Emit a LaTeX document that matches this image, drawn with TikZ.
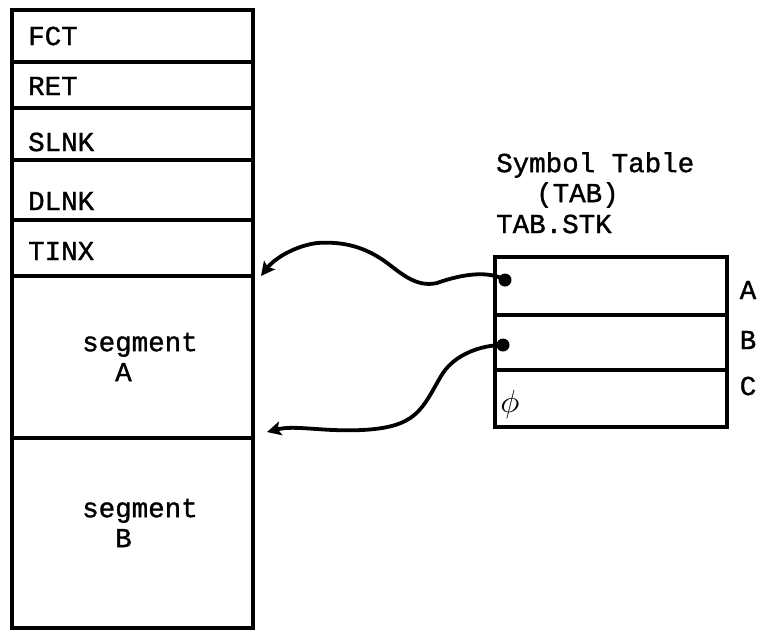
\documentclass[tikz,border=0pt]{standalone}
\usepackage{fontspec}
\newfontfamily\tw[FakeBold=1.2]{Liberation Mono}
\usetikzlibrary{arrows.meta}
\begin{document}
\begin{tikzpicture}[x=1pt,y=-1pt,
  cell/.style={draw,line width=3.4pt,minimum width=241pt,inner sep=0pt},
  tcell/.style={draw,line width=3.4pt,minimum width=232pt,inner sep=0pt},
  lbl/.style={font=\tw\fontsize{27.5}{30}\selectfont,inner sep=0pt},
  ptr/.style={line width=3.8pt,-{Stealth[length=14pt,width=14pt,inset=3pt]}},
  dot/.style={circle,fill,inner sep=0pt,minimum size=13pt}]
\useasboundingbox (0,0) rectangle (760,635);
% left stack
\node[cell,minimum height=52pt] (fct) at (132.5,36) {};
\node[cell,minimum height=46pt] (ret) at (132.5,85) {};
\node[cell,minimum height=52pt] (slnk) at (132.5,134) {};
\node[cell,minimum height=60pt] (dlnk) at (132.5,190) {};
\node[cell,minimum height=56pt] (tinx) at (132.5,248) {};
\node[cell,minimum height=162pt] (sega) at (132.5,357) {};
\node[cell,minimum height=190pt] (segb) at (132.5,533) {};
\node[lbl,anchor=west] (tfct) at (28,36) {FCT};
\node[lbl,anchor=west] (tret) at (28,86) {RET};
\node[lbl,anchor=west] (tslnk) at (28,142) {SLNK};
\node[lbl,anchor=west] (tdlnk) at (28,201) {DLNK};
\node[lbl,anchor=west] (ttinx) at (28,251) {TINX};
\node[lbl,align=left,anchor=west] (tsega) at (82,357) {segment\\\ \ A};
\node[lbl,align=left,anchor=west] (tsegb) at (82,523) {segment\\\ \ B};
% symbol table
\node[lbl,anchor=west] (sym) at (496,165) {Symbol Table};
\node[lbl,anchor=west] (tab) at (536,195) {(TAB)};
\node[lbl,anchor=west] (stk) at (496,224) {TAB.STK};
\node[tcell,minimum height=58pt] (ra) at (611,286) {};
\node[tcell,minimum height=55pt] (rb) at (611,342.5) {};
\node[tcell,minimum height=57pt] (rc) at (611,398.5) {};
\node[lbl] (la) at (748,290) {A};
\node[lbl] (lb) at (748,340) {B};
\node[lbl] (lc) at (748,386) {C};
\node[inner sep=0pt] (phi) at (510,404) {\scalebox{3.2}{$\phi$}};
% pointers
\node[dot] (d1) at (505,280) {};
\node[dot] (d2) at (503,345) {};
\coordinate (e1) at (261,276);
\coordinate (e2) at (267,432);
\draw[ptr] (d1.center) .. controls (490,271) and (465,273) .. (437,283)
  .. controls (415,288) and (400,272) .. (383,260)
  .. controls (365,248) and (345,241) .. (317,243)
  .. controls (295,246) and (275,258) .. (e1);
\draw[ptr] (d2.center) .. controls (480,345) and (455,355) .. (443,373)
  .. controls (432,390) and (425,410) .. (407,420)
  .. controls (390,430) and (360,431) .. (333,430)
  .. controls (310,429) and (290,426) .. (e2);
\end{tikzpicture}
\end{document}
